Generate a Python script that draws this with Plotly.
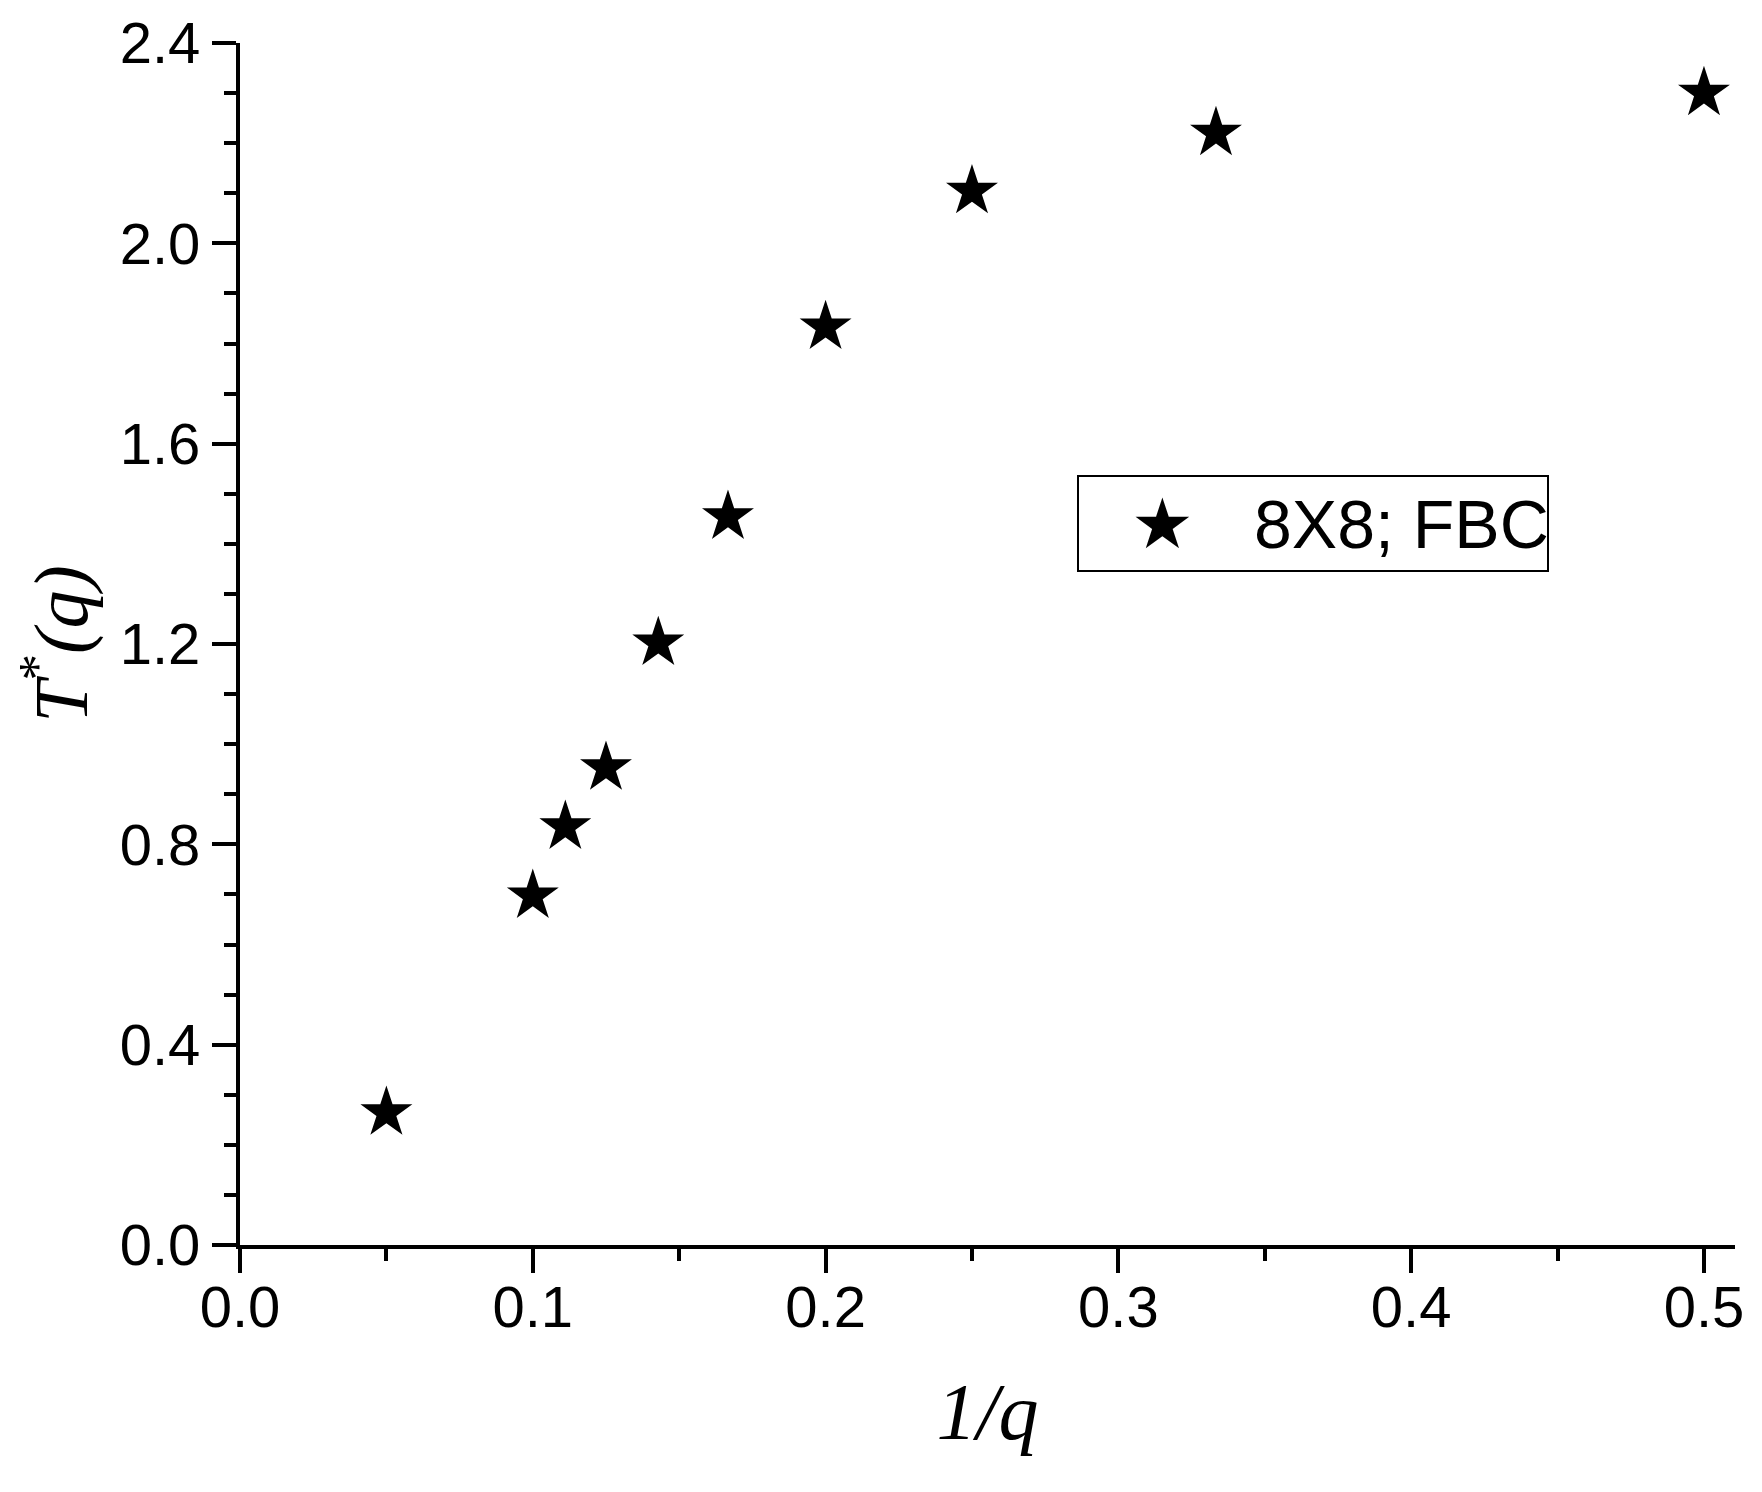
import plotly.graph_objects as go

# 1/q values and the measured T*(q), 8x8 lattice with free boundary conditions
inv_q = [1 / 20, 1 / 10, 1 / 9, 1 / 8, 1 / 7, 1 / 6, 1 / 5, 1 / 4, 1 / 3, 1 / 2]
t_star = [0.264, 0.697, 0.835, 0.953, 1.202, 1.454, 1.833, 2.104, 2.220, 2.300]
series_name = "8X8; FBC"

x_ticks = [0.0, 0.1, 0.2, 0.3, 0.4, 0.5]
y_ticks = [0.0, 0.4, 0.8, 1.2, 1.6, 2.0, 2.4]

tick_font = dict(family="Liberation Sans, Arial", size=58, color="black")
title_font = dict(family="Liberation Serif, Times New Roman", size=76, color="black")

fig = go.Figure()
fig.add_trace(go.Scatter(
    x=inv_q, y=t_star, mode="markers", name=series_name,
    marker=dict(symbol="star", size=39, color="black", line=dict(width=0)),
    showlegend=False,
))

axis_common = dict(
    showgrid=False, zeroline=False, showline=True, linecolor="black", linewidth=4,
    ticks="outside", ticklen=24, tickwidth=4, tickcolor="black",
    tickfont=tick_font, tickformat=".1f",
)

fig.update_xaxes(
    range=[0, 0.5106], tickvals=x_ticks, ticklabelstandoff=-16,
    minor=dict(dtick=0.05, ticks="outside", ticklen=12, tickwidth=4, tickcolor="black"),
    title=dict(text="<i>1/q</i>", font=dict(title_font, size=80), standoff=46),
    **axis_common,
)
fig.update_yaxes(
    range=[0, 2.4], tickvals=y_ticks,
    minor=dict(dtick=0.1, ticks="outside", ticklen=12, tickwidth=4, tickcolor="black"),
    title=dict(text="<i>T</i><sup>*</sup><i>(q)</i>", font=title_font, standoff=18),
    **axis_common,
)

# plot area in page pixels (page has an 8px body margin)
L, T, W, H = 232, 35, 1495, 1202

# legend box drawn by hand so the key star can be as large as in the original
fig.add_shape(type="rect", xref="paper", yref="paper",
              x0=(1078 - 240) / W, x1=(1548 - 240) / W,
              y0=(1245 - 571) / H, y1=(1245 - 476) / H,
              line=dict(color="black", width=2), fillcolor="white")
fig.add_annotation(xref="paper", yref="paper",
                   x=(1162 - 240) / W, y=(1245 - 524) / H,
                   text="★", showarrow=False, xanchor="center", yanchor="middle",
                   font=dict(family="DejaVu Sans", size=70, color="black"))
fig.add_annotation(xref="paper", yref="paper",
                   x=(1252 - 240) / W, y=(1245 - 524) / H,
                   text=series_name, showarrow=False, xanchor="left", yanchor="middle",
                   font=dict(family="Liberation Sans, Arial", size=68, color="black"))

fig.update_layout(
    width=1762, height=1492,
    margin=dict(l=L, r=1762 - L - W, t=T, b=1492 - T - H, autoexpand=False),
    plot_bgcolor="white", paper_bgcolor="white",
)

fig.write_html("out.html")
